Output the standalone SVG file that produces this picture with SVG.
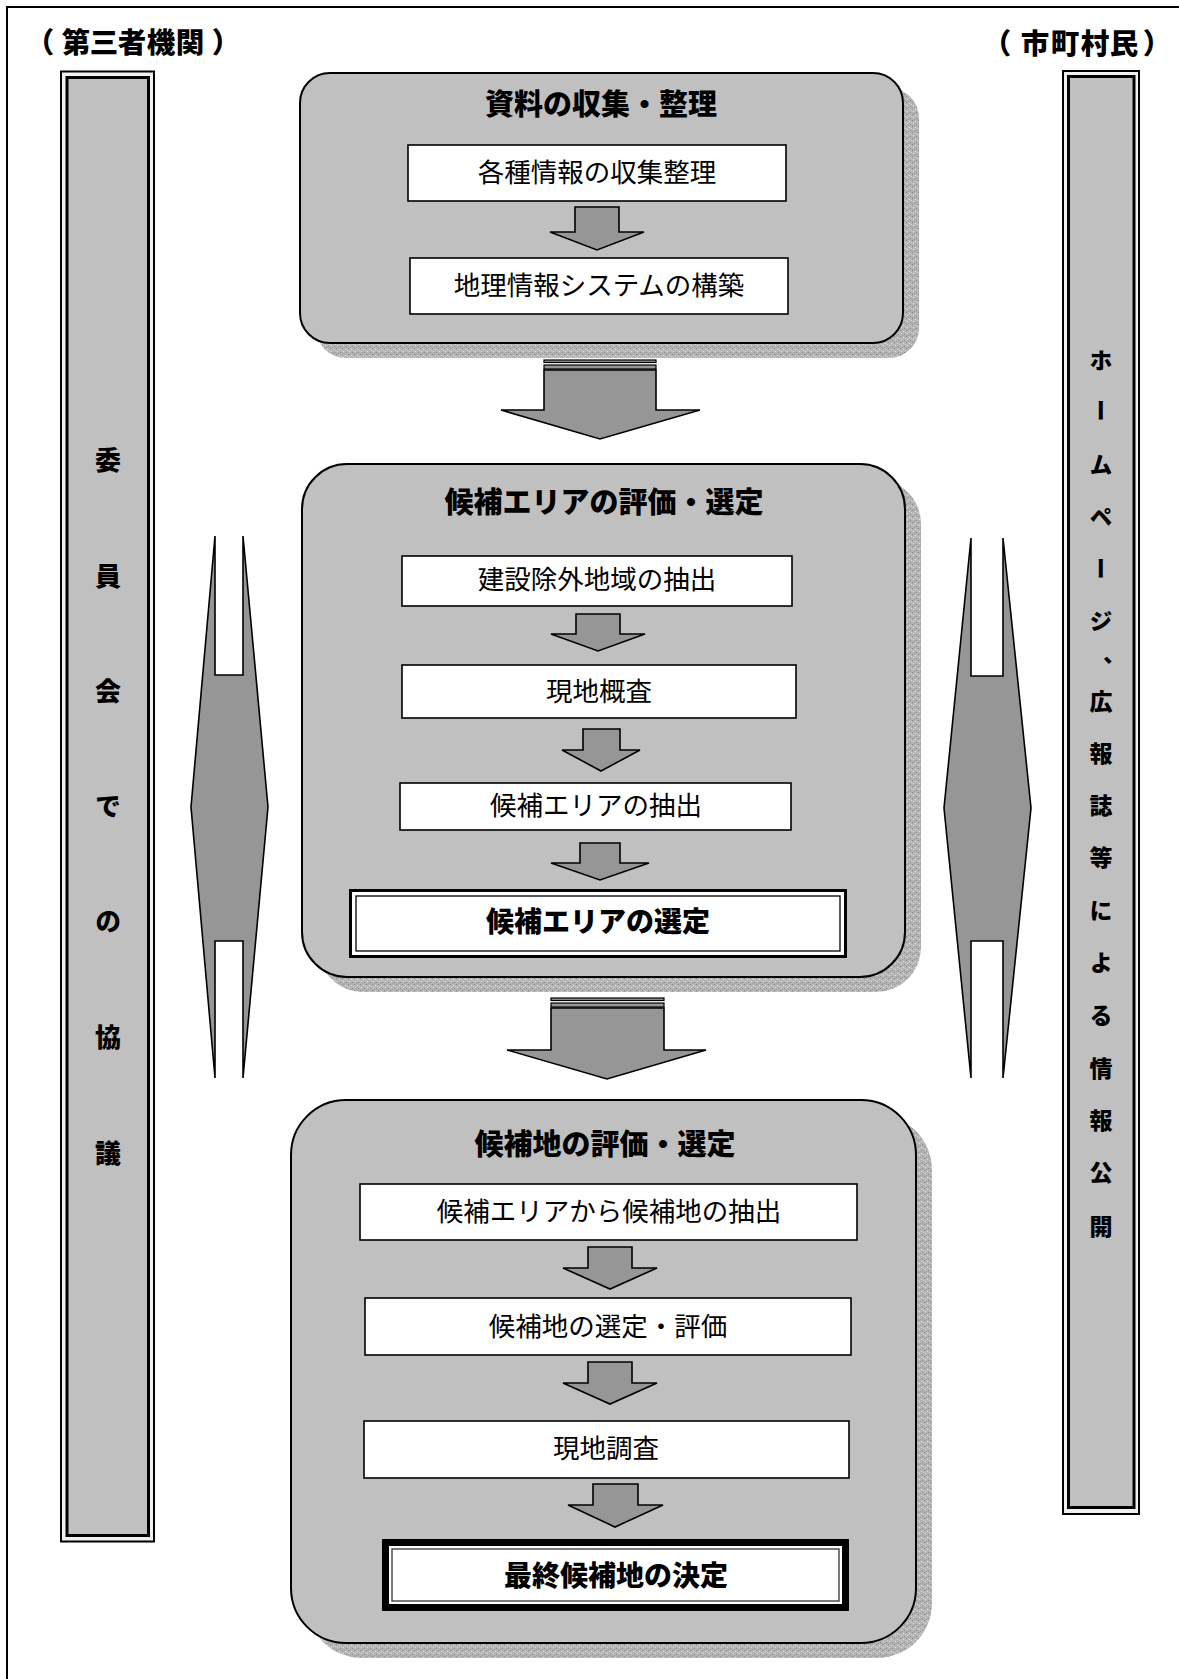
<svg xmlns="http://www.w3.org/2000/svg" width="1179" height="1679" viewBox="0 0 1179 1679">
<defs>
<pattern id="grain" width="6" height="6" patternUnits="userSpaceOnUse">
<rect width="6" height="6" fill="#b4b4b4"/>
<rect x="0" y="0" width="1" height="1" fill="#888"/>
<rect x="3" y="1" width="1" height="1" fill="#e4e4e4"/>
<rect x="1" y="3" width="1" height="1" fill="#e4e4e4"/>
<rect x="4" y="4" width="1" height="1" fill="#888"/>
<rect x="2" y="5" width="1" height="1" fill="#999"/>
<rect x="5" y="2" width="1" height="1" fill="#d4d4d4"/>
</pattern>
</defs>
<style>
.t{font-family:"Noto Sans CJK JP","Noto Sans CJK SC",sans-serif;fill:#000;text-anchor:middle;dominant-baseline:central}
.b{font-weight:900}
.box{fill:#c0c0c0;stroke:#000;stroke-width:2}
.in{fill:#fff;stroke:#000;stroke-width:1.6}
.arr{fill:#969696;stroke:#000;stroke-width:1.6;stroke-linejoin:miter}
.sh{fill:url(#grain)}
.vt{writing-mode:vertical-rl}
.colout{fill:#f0f0f0;stroke:#000;stroke-width:2}
.colin{fill:#c0c0c0;stroke:#000;stroke-width:3}
</style>
<rect width="1179" height="1679" fill="#fff"/>
<path d="M7,1679 V7 H1179" fill="none" stroke="#000" stroke-width="2"/>

<g id="header-left"><text class="t b" x="40 76 104 132 161 190 226" y="40" font-size="28.5">（第三者機関）</text></g>
<g id="header-right"><text class="t b" x="997 1035 1065 1095 1124 1157" y="41" font-size="28.5">（市町村民）</text></g>

<g id="committee">
<rect class="colout" x="61" y="71.5" width="93" height="1470"/>
<rect class="colin" x="67" y="77.5" width="81.5" height="1458"/>
<text class="t b vt" x="108" y="460 576 691 806 921 1037 1153" font-size="26">委員会での協議</text>
</g>

<g id="public">
<rect class="colout" x="1063" y="71" width="76" height="1443"/>
<rect class="colin" x="1068.5" y="76.5" width="65.5" height="1431"/>
<text class="t b vt" x="1101" y="360 410 464 516 568 621 667 701 753 805 857 910 962 1015 1068 1120 1172 1226" font-size="23">ホームページ、広報誌等による情報公開</text>
</g>

<g id="stage1">
<rect class="sh" x="316" y="88" width="603" height="270" rx="30"/>
<rect class="box" x="300" y="73" width="603" height="270" rx="30"/>
<text class="t b" x="601" y="102" font-size="29">資料の収集・整理</text>
</g>
<g id="s1-collect">
<rect class="in" x="408" y="145" width="378" height="56"/>
<text class="t" x="597" y="170" font-size="26.5">各種情報の収集整理</text>
</g>
<g id="s1-gis">
<rect class="in" x="410" y="258" width="378" height="56"/>
<text class="t" x="599" y="283" font-size="26.5">地理情報システムの構築</text>
</g>

<g id="stage2">
<rect class="sh" x="318" y="479" width="603" height="513" rx="45"/>
<rect class="box" x="302" y="464" width="603" height="513" rx="45"/>
<text class="t b" x="604" y="500" font-size="29">候補エリアの評価・選定</text>
</g>
<g id="s2-exclude">
<rect class="in" x="402" y="556" width="390" height="50"/>
<text class="t" x="597" y="577" font-size="26.5">建設除外地域の抽出</text>
</g>
<g id="s2-survey">
<rect class="in" x="402" y="665" width="394" height="53"/>
<text class="t" x="599" y="689" font-size="26.5">現地概査</text>
</g>
<g id="s2-extract">
<rect class="in" x="400" y="783" width="391" height="47"/>
<text class="t" x="596" y="803" font-size="26.5">候補エリアの抽出</text>
</g>
<g id="s2-select">
<rect x="350.5" y="890.5" width="495" height="66" fill="#fff" stroke="#000" stroke-width="3"/>
<rect x="356" y="896" width="484" height="55" fill="none" stroke="#000" stroke-width="1.3"/>
<text class="t b" x="598" y="920" font-size="28">候補エリアの選定</text>
</g>

<g id="stage3">
<rect class="sh" x="307" y="1115" width="625" height="543" rx="55"/>
<rect class="box" x="291" y="1100" width="625" height="543" rx="55"/>
<text class="t b" x="605" y="1142" font-size="29">候補地の評価・選定</text>
</g>
<g id="s3-extract">
<rect class="in" x="360" y="1184" width="497" height="56"/>
<text class="t" x="609" y="1209" font-size="26.5">候補エリアから候補地の抽出</text>
</g>
<g id="s3-eval">
<rect class="in" x="365" y="1298" width="486" height="57"/>
<text class="t" x="608" y="1324" font-size="26.5">候補地の選定・評価</text>
</g>
<g id="s3-survey">
<rect class="in" x="364" y="1421" width="485" height="57"/>
<text class="t" x="606" y="1446" font-size="26.5">現地調査</text>
</g>
<g id="s3-final">
<rect x="385.5" y="1542.5" width="460" height="65" fill="#fff" stroke="#000" stroke-width="7"/>
<rect x="392" y="1549" width="447" height="52" fill="none" stroke="#333" stroke-width="1.3"/>
<text class="t b" x="616" y="1574" font-size="28">最終候補地の決定</text>
</g>

<g id="connectors">
<polygon class="arr" points="575,207 575,232 550,232 597,250 644,232 619,232 619,207"/>
<polygon class="arr" points="576,614 576,634 551,634 598,651 645,634 620,634 620,614"/>
<polygon class="arr" points="583,729 583,750 562,750 601,771 640,750 620,750 620,729"/>
<polygon class="arr" points="580,843 580,863 551,863 600,880 649,863 620,863 620,843"/>
<polygon class="arr" points="588,1247 588,1268 563,1268 610,1289 657,1268 632,1268 632,1247"/>
<polygon class="arr" points="588,1362 588,1383 563,1383 610,1404 657,1383 632,1383 632,1362"/>
<polygon class="arr" points="593,1484 593,1505 568,1505 615,1527 663,1505 638,1505 638,1484"/>

<rect x="544" y="360" width="112" height="2.5" fill="#969696" stroke="#000" stroke-width="1.2"/>
<rect x="544" y="365" width="112" height="4" fill="#969696" stroke="#000" stroke-width="1.2"/>
<polygon class="arr" points="544,370 544,410 501,410 600,439 700,410 656,410 656,370"/>

<rect x="551" y="998" width="113" height="2.5" fill="#969696" stroke="#000" stroke-width="1.2"/>
<rect x="551" y="1003" width="113" height="4" fill="#969696" stroke="#000" stroke-width="1.2"/>
<polygon class="arr" points="551,1008 551,1050 507,1050 607,1079 706,1050 664,1050 664,1008"/>

<polygon class="arr" points="215,536 215,675 243,675 243,536 268,807 243,1078 243,941 215,941 215,1078 191,807"/>
<polygon class="arr" points="971,538 971,676 1003,676 1003,538 1031,808 1003,1078 1003,941 971,941 971,1078 944,808"/>
</g>
</svg>
